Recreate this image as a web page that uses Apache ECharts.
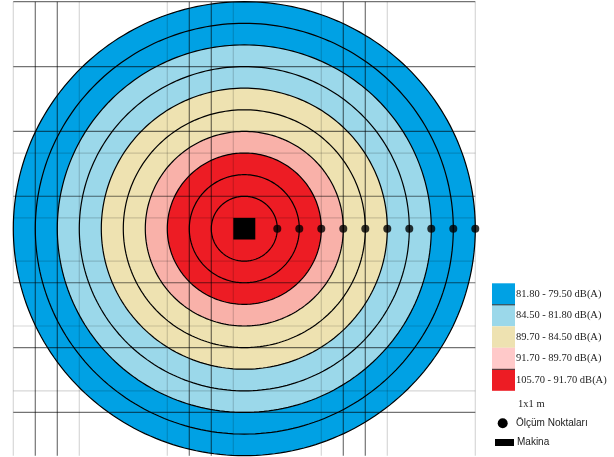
<!DOCTYPE html>
<html>
<head>
<meta charset="utf-8">
<script src="https://cdn.jsdelivr.net/npm/echarts@6/dist/echarts.min.js"></script>
<style>
  html, body { margin: 0; padding: 0; background: #ffffff; }
  #chart { width: 614px; height: 457px; }
</style>
</head>
<body>
<div id="chart"></div>
<script>
// Noise bands (dB(A)), from the outermost band inwards
const bandLabels = [
  '81.80 - 79.50 dB(A)',
  '84.50 - 81.80 dB(A)',
  '89.70 - 84.50 dB(A)',
  '91.70 - 89.70 dB(A)',
  '105.70 - 91.70 dB(A)'
];
// Outer radius of each band, in metres from the machine
const bandOuterRadius = [10.5, 8.5, 6.5, 4.5, 3.5];
// Measured contour circles, in metres from the machine
const ringRadii = [10.5, 9.5, 8.5, 7.5, 6.5, 5.5, 4.5, 3.5, 2.5, 1.5];
// Machine position (metres) and the measuring points to its right
const machinePos = [10.5, 10.5];
const measureX = [12, 13, 14, 15, 16, 17, 18, 19, 20, 21];
// 1x1 m site grid lines that are drawn (x and y in metres)
const gridXLines = [0, 1, 2, 3, 7, 8, 9, 10, 14, 15, 16, 17, 21];
const gridXDark  = [0, 1, 1, 0, 0, 1, 1, 0, 0, 1, 1, 0, 0];
const gridYLines = [0, 3, 6, 7, 9, 10, 12, 13, 15, 16, 18, 19];
const gridYDark  = [1, 1, 1, 0, 1, 0, 0, 1, 0, 1, 0, 1];

const bandFill   = ['#00a1e4', '#9bd8ea', '#eee2b1', '#f9b1a9', '#ed1c24'];
const bandSwatch = ['#00a1e4', '#9bd8ea', '#eee2b1', '#ffc9c9', '#ed1c24'];
const extent = 21;

function bandOf(r) {
  let idx = 0;
  for (let i = 0; i < bandOuterRadius.length; i++) {
    if (r <= bandOuterRadius[i] + 1e-9) idx = i;
  }
  return idx;
}

const chart = echarts.init(document.getElementById('chart'), null, { renderer: 'canvas' });

const ringData = ringRadii.slice().sort((a, b) => b - a).map(r => [r]);
const gridData = gridXLines.map((v, i) => [0, v, gridXDark[i]])
  .concat(gridYLines.map((v, i) => [1, v, gridYDark[i]]));

const legendRowH = 21.5;
const legendTop = 283.3;
const legendX = 492;
const graphics = [];
bandLabels.forEach((lab, i) => {
  const y = legendTop + i * legendRowH;
  graphics.push({
    type: 'rect', shape: { x: legendX, y: y, width: 23, height: legendRowH },
    style: { fill: bandSwatch[i] }
  });
  graphics.push({
    type: 'text', x: 516, y: y + legendRowH / 2,
    style: { text: lab, fill: '#222', font: '10.5px "Liberation Serif", serif', textVerticalAlign: 'middle' }
  });
});
[1, 4].forEach(i => {
  const y = legendTop + i * legendRowH;
  graphics.push({ type: 'line', shape: { x1: legendX, y1: y, x2: legendX + 23, y2: y }, style: { stroke: '#333', lineWidth: 1 } });
});
graphics.push({
  type: 'text', x: 518, y: 404,
  style: { text: '1x1 m', fill: '#222', font: '10.5px "Liberation Serif", serif', textVerticalAlign: 'middle' }
});
graphics.push({ type: 'circle', shape: { cx: 502.7, cy: 423.3, r: 5 }, style: { fill: '#000' } });
graphics.push({
  type: 'text', x: 516, y: 423.3,
  style: { text: 'Ölçüm Noktaları', fill: '#222', font: '10px "Liberation Sans", sans-serif', textVerticalAlign: 'middle' }
});
graphics.push({ type: 'rect', shape: { x: 495, y: 439, width: 19, height: 7 }, style: { fill: '#000' } });
graphics.push({
  type: 'text', x: 517, y: 442.5,
  style: { text: 'Makina', fill: '#222', font: '10px "Liberation Sans", sans-serif', textVerticalAlign: 'middle' }
});

const option = {
  animation: false,
  backgroundColor: '#ffffff',
  grid: { left: 13.3, top: 1.7, width: 462, height: 454 },
  xAxis: { type: 'value', min: 0, max: extent, show: false },
  yAxis: { type: 'value', min: 0, max: extent, inverse: true, show: false },
  graphic: graphics,
  series: [
    {
      // filled contour circles, outermost first
      type: 'custom',
      z: 1,
      data: ringData,
      renderItem: function (params, api) {
        const r = api.value(0);
        const pts = [];
        const n = 240;
        for (let k = 0; k < n; k++) {
          const a = (k / n) * Math.PI * 2;
          pts.push(api.coord([machinePos[0] + r * Math.cos(a), machinePos[1] + r * Math.sin(a)]));
        }
        return {
          type: 'polygon',
          shape: { points: pts },
          style: { fill: bandFill[bandOf(r)], stroke: '#000', lineWidth: 1.2 }
        };
      }
    },
    {
      // site grid lines
      type: 'custom',
      z: 2,
      data: gridData,
      renderItem: function (params, api) {
        const vertical = api.value(0) === 0;
        const v = api.value(1);
        const dark = api.value(2) === 1;
        const p1 = vertical ? api.coord([v, 0]) : api.coord([0, v]);
        const p2 = vertical ? api.coord([v, extent]) : api.coord([extent, v]);
        return {
          type: 'line',
          shape: { x1: p1[0], y1: p1[1], x2: p2[0], y2: p2[1] },
          style: { stroke: dark ? 'rgba(0,0,0,0.55)' : 'rgba(0,0,0,0.16)', lineWidth: 1.2 }
        };
      }
    },
    {
      // machine
      type: 'custom',
      z: 4,
      data: [machinePos],
      renderItem: function (params, api) {
        const c = [api.value(0), api.value(1)];
        const p1 = api.coord([c[0] - 0.5, c[1] - 0.5]);
        const p2 = api.coord([c[0] + 0.5, c[1] + 0.5]);
        return {
          type: 'rect',
          shape: { x: p1[0], y: p1[1], width: p2[0] - p1[0], height: p2[1] - p1[1] },
          style: { fill: '#000' }
        };
      }
    },
    {
      // measuring points
      type: 'scatter',
      z: 5,
      symbol: 'circle',
      symbolSize: 8,
      itemStyle: { color: '#000' },
      data: measureX.map(x => [x, machinePos[1]])
    }
  ]
};

chart.setOption(option);
</script>
</body>
</html>
